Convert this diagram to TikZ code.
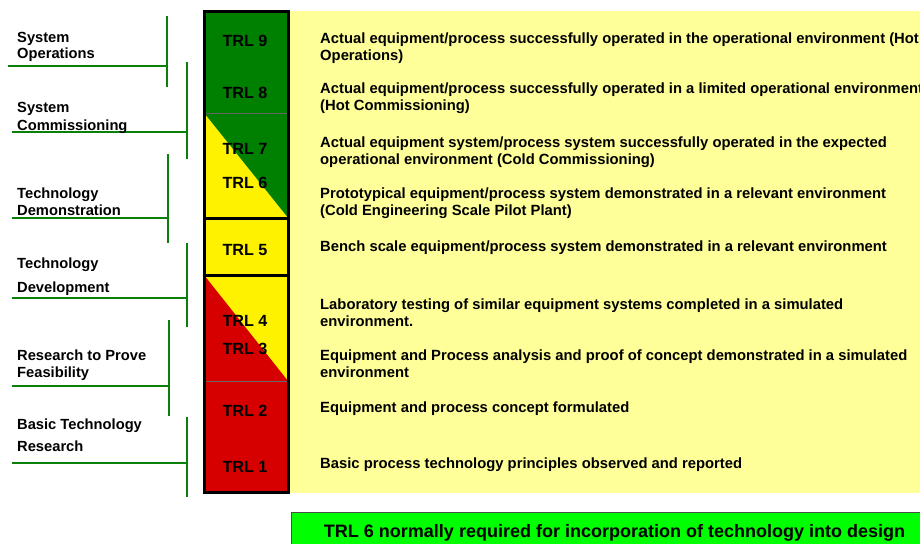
\documentclass[tikz,border=0pt]{standalone}
\usepackage{fontspec}
\setmainfont{Liberation Sans}
\definecolor{dkgreen}{RGB}{0,128,0}
\definecolor{trlred}{RGB}{214,0,0}
\definecolor{paleyel}{RGB}{255,255,153}
\definecolor{brgreen}{RGB}{0,255,0}
\definecolor{brkgreen}{RGB}{10,128,10}
\begin{document}
\begin{tikzpicture}[x=1pt,y=-1pt,
  lbl/.style={anchor=base west, inner sep=0pt, align=left, font=\fontsize{14.7}{17}\selectfont\bfseries, text=black},
  desc/.style={anchor=base west, inner sep=0pt, align=left, font=\fontsize{14.8}{17}\selectfont\bfseries, text=black},
  trl/.style={anchor=base, inner sep=0pt, font=\fontsize{16.2}{18}\selectfont\bfseries, text=black},
  brk/.style={draw=brkgreen, line width=2.4pt},
  thick border/.style={draw=black, line width=3pt}]
\clip (0,0) rectangle (920,543);
\fill[white] (0,0) rectangle (920,543);
% pale yellow panel
\fill[paleyel] (288,11) rectangle (925,493);
% TRL column fills
\fill[dkgreen] (204,12) rectangle (288,218);
\fill[yellow] (204,113) -- (204,218) -- (288,218) -- cycle;
\fill[yellow] (204,218) rectangle (288,381);
\fill[trlred] (204,275) -- (204,381) -- (288,381) -- cycle;
\fill[trlred] (204,381) rectangle (288,492);
\draw[line width=0.6pt, black!60] (204,113) -- (288,113);
\draw[line width=0.6pt, black!60] (204,381) -- (288,381);
\draw[thick border] (204,218) -- (288,218);
\draw[thick border] (204,275) -- (288,275);
\draw[thick border] (204,12) rectangle (288,492);
% TRL labels
\node[trl] (t9) at (245,47) {TRL 9};
\node[trl] (t8) at (245,98) {TRL 8};
\node[trl] (t7) at (245,154) {TRL 7};
\node[trl] (t6) at (245,188) {TRL 6};
\node[trl] (t5) at (245,255) {TRL 5};
\node[trl] (t4) at (245,326) {TRL 4};
\node[trl] (t3) at (245,354) {TRL 3};
\node[trl] (t2) at (245,416) {TRL 2};
\node[trl] (t1) at (245,472) {TRL 1};
% descriptions (base = baseline of last line)
\node[desc] (d9) at (320,60) {Actual equipment/process successfully operated in the operational environment (Hot\\Operations)};
\node[desc] (d8) at (320,110) {Actual equipment/process successfully operated in a limited operational environment\\(Hot Commissioning)};
\node[desc] (d7) at (320,164) {Actual equipment system/process system successfully operated in the expected\\operational environment (Cold Commissioning)};
\node[desc] (d6) at (320,215) {Prototypical equipment/process system demonstrated in a relevant environment\\(Cold Engineering Scale Pilot Plant)};
\node[desc] (d5) at (320,251) {Bench scale equipment/process system demonstrated in a relevant environment};
\node[desc] (d4) at (320,326) {Laboratory testing of similar equipment systems completed in a simulated\\environment.};
\node[desc] (d3) at (320,377) {Equipment and Process analysis and proof of concept demonstrated in a simulated\\environment};
\node[desc] (d2) at (320,412) {Equipment and process concept formulated};
\node[desc] (d1) at (320,468) {Basic process technology principles observed and reported};
% left brackets
\draw[brk] (167,16) -- (167,87);
\draw[brk] (8,66) -- (167,66);
\draw[brk] (187,62) -- (187,159);
\draw[brk] (12,132) -- (187,132);
\draw[brk] (168,154) -- (168,243);
\draw[brk] (12,218) -- (168,218);
\draw[brk] (187,243) -- (187,327);
\draw[brk] (12,298) -- (187,298);
\draw[brk] (169,320) -- (169,416);
\draw[brk] (12,386) -- (169,386);
\draw[brk] (187,417) -- (187,497);
\draw[brk] (12,463) -- (187,463);
% left labels (base = baseline of last line)
\node[lbl] (l1) at (17,59) {System\\Operations};
\node[lbl] (l2) at (17,130) {System\\[1pt]Commissioning};
\node[lbl] (l3) at (17,215) {Technology\\Demonstration};
\node[lbl] (l4) at (17,292) {Technology\\[7pt]Development};
\node[lbl] (l5) at (17,377) {Research to Prove\\Feasibility};
\node[lbl] (l6) at (17,451) {Basic Technology\\[5pt]Research};
% bottom note
\fill[brgreen] (291,512) rectangle (925,550);
\draw[line width=1pt, black!70] (925,512) -- (291,512) -- (291,550);
\node[anchor=base, inner sep=0pt, font=\fontsize{18}{20}\selectfont\bfseries, text=black] (note) at (614.5,537.5) {TRL 6 normally required for incorporation of technology into design};
\end{tikzpicture}
\end{document}
